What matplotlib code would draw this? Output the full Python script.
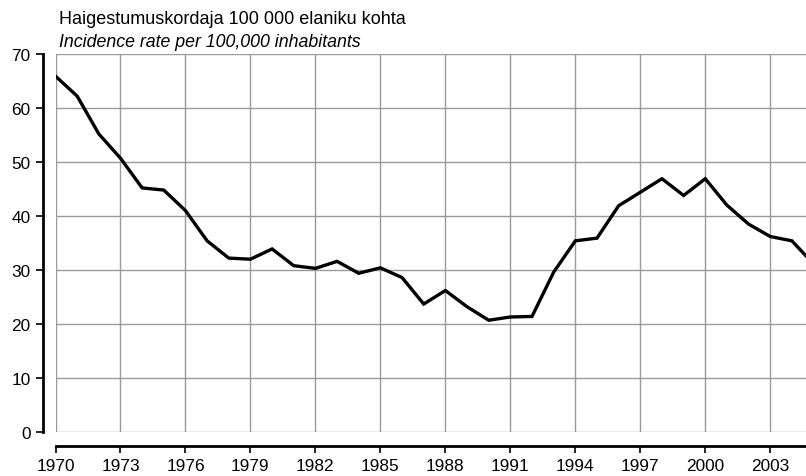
import matplotlib
matplotlib.use('Agg')
import matplotlib.pyplot as plt

plt.rcParams['font.family'] = ['Liberation Sans', 'DejaVu Sans']

years = list(range(1970, 2006))
rate = [65.9, 62.2, 55.2, 50.7, 45.2, 44.8, 41.0, 35.4, 32.2, 32.0,
        33.9, 30.8, 30.3, 31.6, 29.4, 30.4, 28.6, 23.7, 26.2, 23.2,
        20.7, 21.3, 21.4, 29.6, 35.4, 35.9, 41.9, 44.4, 46.9, 43.8,
        46.9, 42.0, 38.5, 36.2, 35.4, 31.1]
xticks = list(range(1970, 2004, 3))
yticks = [0, 10, 20, 30, 40, 50, 60, 70]

fig = plt.figure(figsize=(8.06, 4.77), dpi=100)
ax = fig.add_axes([55.5 / 806, 44 / 477, 1 - 55.5 / 806, 378 / 477])

ax.plot(years, rate, color='black', lw=2.4, solid_joinstyle='miter', zorder=3)

ax.set_xlim(1970, 2004.65)
ax.set_ylim(0, 70)
ax.set_xticks(xticks)
ax.set_yticks(yticks)
ax.grid(True, color='#9a9a9a', lw=1.0)
ax.set_axisbelow(True)

for s in ['top', 'right']:
    ax.spines[s].set_visible(False)
ax.spines['left'].set_position(('outward', 9))
ax.spines['bottom'].set_position(('outward', 10))
ax.spines['left'].set_linewidth(2)
ax.spines['bottom'].set_linewidth(2)
ax.tick_params(axis='both', labelsize=12.4, width=1.2, length=5, color='black', labelcolor='black')
ax.tick_params(axis='y', pad=4)
ax.tick_params(axis='x', pad=4)

fig.text(59 / 806, 1 - 24 / 477, 'Haigestumuskordaja 100 000 elaniku kohta',
         fontsize=13, ha='left', va='baseline')
fig.text(59 / 806, 1 - 47 / 477, 'Incidence rate per 100,000 inhabitants',
         fontsize=12.8, style='italic', ha='left', va='baseline')

fig.savefig('out.png', dpi=100)
